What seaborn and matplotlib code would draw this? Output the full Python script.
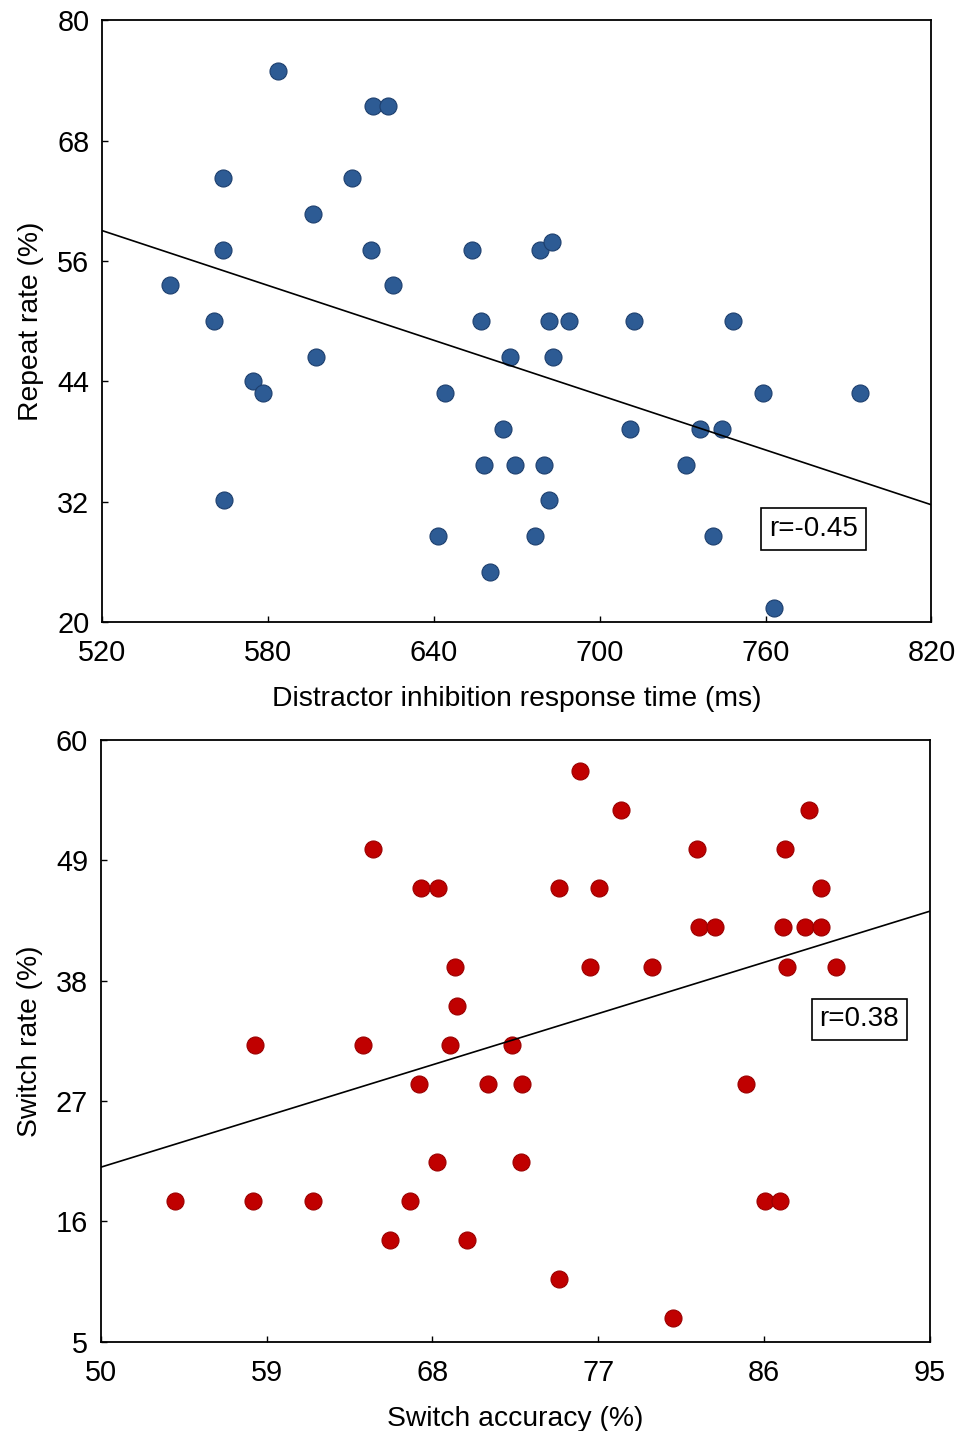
import matplotlib
matplotlib.use("Agg")
import matplotlib.pyplot as plt
import seaborn as sns
import pandas as pd
import numpy as np

# top panel: distractor inhibition RT vs repeat rate
rt_ms = [583.8, 618.0, 623.4, 563.7, 610.4, 596.3, 563.7, 617.4, 653.8, 678.5,
         682.8, 544.6, 625.1, 560.4, 657.1, 681.5, 689.0, 712.4, 748.3, 597.3,
         667.4, 683.1, 574.8, 578.4, 643.9, 759.2, 794.3, 664.9, 710.8, 736.3,
         744.3, 658.1, 669.4, 679.7, 731.4, 564.2, 681.5, 641.4, 676.5, 741.0,
         660.2, 763.2]
repeat_rate = [75.0, 71.43, 71.43, 64.29, 64.29, 60.71, 57.14, 57.14, 57.14, 57.14,
               57.9, 53.57, 53.57, 50.0, 50.0, 50.0, 50.0, 50.0, 50.0, 46.43,
               46.43, 46.43, 44.0, 42.86, 42.86, 42.86, 42.86, 39.29, 39.29, 39.29,
               39.29, 35.71, 35.71, 35.71, 35.71, 32.14, 32.14, 28.57, 28.57, 28.57,
               25.0, 21.43]

# bottom panel: switch accuracy vs switch rate
switch_acc = [64.80, 67.37, 68.28, 69.23, 69.31, 58.35, 64.22, 68.96, 72.34, 75.99,
              78.25, 88.46, 82.35, 87.11, 74.87, 77.04, 89.10, 82.45, 83.33, 87.02,
              88.19, 89.10, 76.57, 79.93, 87.26, 89.91, 67.28, 71.00, 72.85, 84.99,
              68.25, 72.79, 54.03, 58.28, 61.50, 66.81, 86.04, 86.88, 65.69, 69.88,
              74.87, 81.05]
switch_rate = [50.0, 46.43, 46.43, 39.29, 35.71, 32.14, 32.14, 32.14, 32.14, 57.14,
               53.57, 53.57, 50.0, 50.0, 46.43, 46.43, 46.43, 42.86, 42.86, 42.86,
               42.86, 42.86, 39.29, 39.29, 39.29, 39.29, 28.57, 28.57, 28.57, 28.57,
               21.43, 21.43, 17.86, 17.86, 17.86, 17.86, 17.86, 17.86, 14.29, 14.29,
               10.71, 7.14]

top_xticks = [520, 580, 640, 700, 760, 820]
top_yticks = [20, 32, 44, 56, 68, 80]
bot_xticks = [50, 59, 68, 77, 86, 95]
bot_yticks = [5, 16, 27, 38, 49, 60]

top_df = pd.DataFrame({"rt": rt_ms, "repeat": repeat_rate})
bot_df = pd.DataFrame({"acc": switch_acc, "switch": switch_rate})

sns.set_style("white")
plt.rcParams["font.family"] = ["Liberation Sans", "DejaVu Sans"]

fig = plt.figure(figsize=(9.71, 14.31), dpi=100)
ax1 = fig.add_axes([0.105, 0.5653, 0.8543, 0.4204])
ax2 = fig.add_axes([0.1037, 0.0624, 0.8541, 0.4205])


def panel(ax, df, x, y, color, edge, xlim, ylim, xticks, yticks, xlabel, ylabel, rtext, rpos):
    ax.set_xlim(*xlim)
    ax.set_ylim(*ylim)
    sns.regplot(data=df, x=x, y=y, ax=ax, ci=None, truncate=False,
                scatter_kws=dict(s=150, color=color, edgecolor=edge, linewidths=0.8, alpha=1),
                line_kws=dict(color="black", lw=1.2))
    ax.set_xlim(*xlim)
    ax.set_ylim(*ylim)
    ax.set_xticks(xticks)
    ax.set_yticks(yticks)
    ax.tick_params(direction="in", length=4, width=1, labelsize=20.8,
                   colors="black", bottom=True, left=True)
    ax.tick_params(axis="x", pad=12.5)
    ax.tick_params(axis="y", pad=9)
    ax.set_xlabel(xlabel, fontsize=20.3, labelpad=13.5, color="black")
    ax.set_ylabel(ylabel, fontsize=20.3, labelpad=9.5, color="black")
    for sp in ax.spines.values():
        sp.set_color("black")
        sp.set_linewidth(1.3)
    ax.text(rpos[0], rpos[1], rtext, transform=ax.transAxes, fontsize=20,
            ha="center", va="center", color="black",
            bbox=dict(boxstyle="square,pad=0.28", fc="white", ec="black", lw=1.2))


panel(ax1, top_df, "rt", "repeat", "#2d5b94", "#1d3f6e", (520, 820), (20, 80),
      top_xticks, top_yticks, "Distractor inhibition response time (ms)",
      "Repeat rate (%)", "r=-0.45", (0.858, 0.155))
panel(ax2, bot_df, "acc", "switch", "#c00000", "#9a0000", (50, 95), (5, 60),
      bot_xticks, bot_yticks, "Switch accuracy (%)",
      "Switch rate (%)", "r=0.38", (0.9146, 0.5355))

fig.savefig("out.png", dpi=100)
